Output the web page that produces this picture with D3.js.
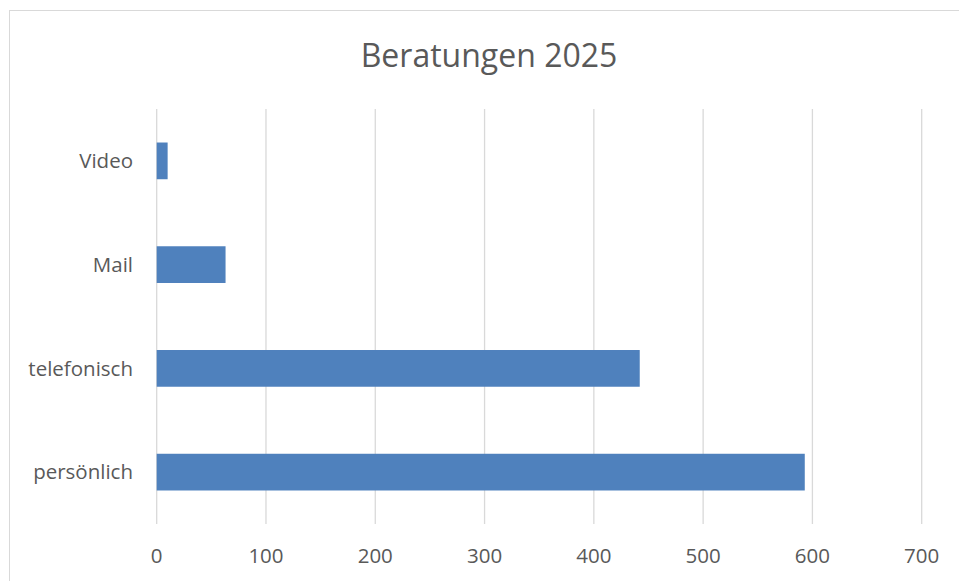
<!DOCTYPE html>
<html>
<head>
<meta charset="utf-8">
<script src="https://cdn.jsdelivr.net/npm/d3@7"></script>
<style>
  body { margin: 0; background: #fff; }
  text { font-family: "Open Sans", sans-serif; fill: #595959; }
</style>
</head>
<body>
<div id="chart"></div>
<script>
var categories = ["Video", "Mail", "telefonisch", "persönlich"];
var values = [10, 63, 442, 593];
var xTicks = [0, 100, 200, 300, 400, 500, 600, 700];
var title = "Beratungen 2025";

var width = 959, height = 581;
var margin = { left: 156.7, right: 37.3, top: 109, bottom: 57 };

var svg = d3.select("#chart").append("svg")
  .attr("width", width)
  .attr("height", height);

// chart frame (runs off the right and bottom edge)
svg.append("rect")
  .attr("x", 9.5).attr("y", 10.5)
  .attr("width", 970).attr("height", 600)
  .attr("fill", "none")
  .attr("stroke", "#d9d9d9");

var x = d3.scaleLinear().domain([0, 700]).range([margin.left, width - margin.right]);
var y = d3.scaleBand().domain(categories)
  .range([margin.top, height - margin.bottom])
  .paddingInner(0.646).paddingOuter(0.323);

// gridlines
svg.append("g").selectAll("line")
  .data(xTicks)
  .enter().append("line")
  .attr("x1", function (d) { return x(d); })
  .attr("x2", function (d) { return x(d); })
  .attr("y1", margin.top)
  .attr("y2", height - margin.bottom)
  .attr("stroke", "#d9d9d9")
  .attr("stroke-width", 1.3);

// bars
svg.append("g").selectAll("rect")
  .data(values)
  .enter().append("rect")
  .attr("x", x(0))
  .attr("y", function (d, i) { return y(categories[i]); })
  .attr("width", function (d) { return x(d) - x(0); })
  .attr("height", y.bandwidth())
  .attr("fill", "#4f81bd");

// x tick labels
svg.append("g").selectAll("text")
  .data(xTicks)
  .enter().append("text")
  .attr("x", function (d) { return x(d); })
  .attr("y", 563)
  .attr("text-anchor", "middle")
  .attr("font-size", 20.5)
  .text(function (d) { return d; });

// category labels
svg.append("g").selectAll("text")
  .data(categories)
  .enter().append("text")
  .attr("x", 133)
  .attr("y", function (d) { return y(d) + y.bandwidth() / 2; })
  .attr("dy", "0.35em")
  .attr("text-anchor", "end")
  .attr("font-size", 20.5)
  .text(function (d) { return d; });

svg.append("text")
  .attr("x", 489)
  .attr("y", 67)
  .attr("text-anchor", "middle")
  .attr("font-size", 32)
  .text(title);
</script>
</body>
</html>
